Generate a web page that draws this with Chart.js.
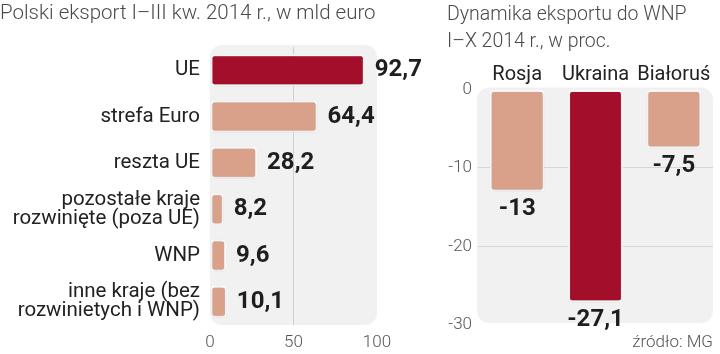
<!DOCTYPE html>
<html><head><meta charset="utf-8">
<script src="https://cdn.jsdelivr.net/npm/chart.js@4"></script>
<style>
html,body{margin:0;padding:0;background:#fff;width:720px;height:354px;overflow:hidden}
#l{position:absolute;left:0;top:0}
#r{position:absolute;left:447px;top:0}
</style></head><body>
<canvas id="l" width="440" height="354"></canvas>
<canvas id="r" width="273" height="354"></canvas>
<script>
// ---- data ----
const exportCategories = ['UE', 'strefa Euro', 'reszta UE', ['pozostałe kraje', 'rozwinięte (poza UE)'], 'WNP', ['inne kraje (bez', 'rozwinietych i WNP)']];
const exportValues = [92.7, 64.4, 28.2, 8.2, 9.6, 10.1];
const exportTicks = [0, 50, 100];
const dynamicsCategories = ['Rosja', 'Ukraina', 'Białoruś'];
const dynamicsValues = [-13, -27.1, -7.5];
const dynamicsTicks = [0, -10, -20, -30];

const FAMILY = 'Roboto, "Liberation Sans", sans-serif';
const DARK = '#a30e2b';
const LIGHT = '#d9a08a';
Chart.defaults.font.family = FAMILY;

const panelBg = {
  id: 'panelBg',
  beforeDraw(chart, args, o) {
    const {ctx, chartArea: a} = chart;
    ctx.save();
    ctx.fillStyle = '#f1f1f1';
    ctx.beginPath();
    ctx.roundRect(a.left + o.l, a.top + o.t, a.width + o.w, a.height + o.h, 12);
    ctx.fill();
    ctx.restore();
  }
};
const barShadow = {
  id: 'barShadow',
  beforeDatasetsDraw(chart) {
    const ctx = chart.ctx;
    ctx.save();
    ctx.shadowColor = 'rgba(0,0,0,0.18)';
    ctx.shadowBlur = 3;
    ctx.shadowOffsetX = 0;
    ctx.shadowOffsetY = 0.5;
  },
  afterDatasetsDraw(chart) { chart.ctx.restore(); }
};
const valueLabels = {
  id: 'valueLabels',
  afterDatasetsDraw(chart, args, o) {
    const {ctx} = chart;
    const meta = chart.getDatasetMeta(0);
    const vals = chart.data.datasets[0].data;
    ctx.save();
    ctx.font = 'bold 24px ' + FAMILY;
    ctx.fillStyle = '#1e1e1e';
    ctx.textBaseline = 'middle';
    meta.data.forEach((bar, i) => {
      const txt = String(vals[i]).replace('.', ',');
      if (o.horizontal) {
        ctx.textAlign = 'left';
        ctx.fillText(txt, bar.x + o.offset, bar.y);
      } else {
        ctx.textAlign = 'center';
        ctx.fillText(txt, bar.x, bar.y + o.offset);
      }
    });
    ctx.restore();
  }
};

new Chart(document.getElementById('l'), {
  type: 'bar',
  data: {
    labels: exportCategories,
    datasets: [{
      data: exportValues,
      backgroundColor: exportValues.map((v, i) => i === 0 ? DARK : LIGHT),
      borderColor: 'rgba(255,255,255,0.95)',
      borderWidth: 2,
      borderRadius: 4,
      borderSkipped: false,
      barPercentage: 0.69,
      categoryPercentage: 1
    }]
  },
  plugins: [panelBg, barShadow, valueLabels],
  options: {
    responsive: false,
    animation: false,
    indexAxis: 'y',
    layout: {padding: {left: 0, right: 63, top: 0, bottom: 0}},
    plugins: {
      legend: {display: false},
      tooltip: {enabled: false},
      title: {
        display: true, text: 'Polski eksport I–III kw. 2014 r., w mld euro', align: 'start',
        color: '#4a4a4a', font: {size: 20.5, weight: '300', lineHeight: 1.2}, padding: {top: 2, bottom: 20.4}
      },
      panelBg: {l: 0, t: -2, w: 0, h: 2},
      valueLabels: {horizontal: true, offset: 10}
    },
    scales: {
      x: {
        min: 0, max: 100,
        afterBuildTicks(s) { s.ticks = exportTicks.map(v => ({value: v})); },
        grid: {color: c => (c.tick && c.tick.value === 50) ? '#cfcfcf' : 'rgba(0,0,0,0)', drawTicks: false},
        border: {display: false},
        ticks: {padding: 8, color: '#555', font: {size: 17, weight: '300'}, maxRotation: 0},
        afterFit(s) { s.height = 29; }
      },
      y: {
        grid: {display: false, drawTicks: false},
        border: {display: false},
        ticks: {color: '#222', font: {size: 20.5, lineHeight: 0.93}, padding: 10},
        afterFit(s) { s.width = 210; }
      }
    }
  }
});

new Chart(document.getElementById('r'), {
  type: 'bar',
  data: {
    labels: dynamicsCategories,
    datasets: [{
      data: dynamicsValues,
      backgroundColor: dynamicsValues.map((v, i) => i === 1 ? DARK : LIGHT),
      borderColor: 'rgba(255,255,255,0.95)',
      borderWidth: 2,
      borderRadius: 4,
      borderSkipped: false,
      barPercentage: 0.70,
      categoryPercentage: 1
    }]
  },
  plugins: [panelBg, barShadow, valueLabels],
  options: {
    responsive: false,
    animation: false,
    layout: {padding: {left: 0, right: 7, top: 0, bottom: 0}},
    plugins: {
      legend: {display: false},
      tooltip: {enabled: false},
      title: {
        display: true, text: ['Dynamika eksportu do WNP', 'I–X 2014 r., w proc.'], align: 'start',
        color: '#4a4a4a', font: {size: 19.5, weight: '300', lineHeight: 1.42}, padding: {top: 1, bottom: 5}
      },
      subtitle: {
        display: true, position: 'bottom', align: 'end', text: 'źródło: MG',
        color: '#555', font: {size: 17, weight: '300', lineHeight: 1.2}, padding: {top: 7.6, bottom: 1}
      },
      panelBg: {l: -1, t: -2, w: 1, h: 0},
      valueLabels: {horizontal: false, offset: 18}
    },
    scales: {
      x: {
        position: 'top',
        grid: {display: false, drawTicks: false},
        border: {display: false},
        ticks: {color: '#222', font: {size: 20, lineHeight: 1.2}, padding: 2, maxRotation: 0, minRotation: 0, autoSkip: false}
      },
      y: {
        min: -30, max: 0,
        afterBuildTicks(s) { s.ticks = dynamicsTicks.map(v => ({value: v})); },
        grid: {color: c => (c.tick && (c.tick.value === -10 || c.tick.value === -20)) ? '#d6d6d6' : 'rgba(0,0,0,0)', drawTicks: false},
        border: {display: false},
        ticks: {padding: 6, color: '#555', font: {size: 17, weight: '300'}},
        afterFit(s) { s.width = 31; }
      }
    }
  }
});
</script>
</body></html>
